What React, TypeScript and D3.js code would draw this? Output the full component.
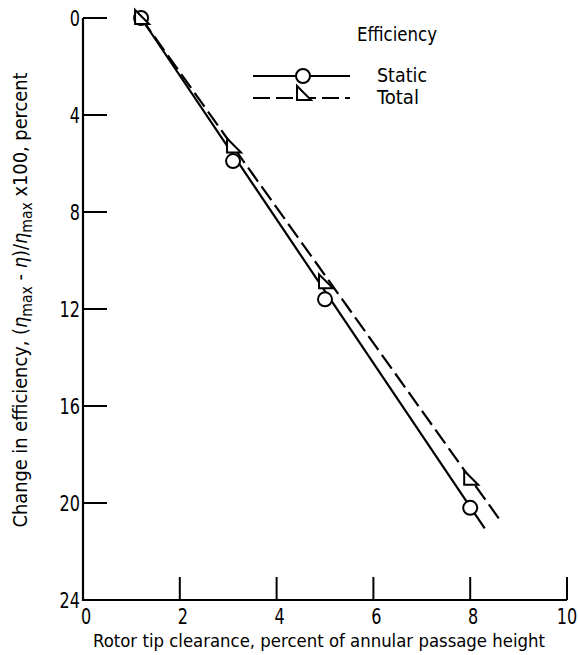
import React from "react";
import * as d3 from "d3";

const staticX = [1.2, 3.1, 5.0, 8.0];
const staticY = [0, 5.9, 11.6, 20.2];
const totalX = [1.2, 3.1, 5.0, 8.0];
const totalY = [0, 5.3, 10.9, 19.0];
const staticFitX = [1.2, 8.3];
const staticFitY = [0, 21.05];
const totalFitX = [1.2, 8.65];
const totalFitY = [0, 20.8];
const xTicks = [0, 2, 4, 6, 8, 10];
const yTicks = [0, 4, 8, 12, 16, 20, 24];
const legendNames = ["Static", "Total"];
const legendTitle = "Efficiency";
const xLabel = "Rotor tip clearance,  percent of annular passage height";

const W = 578;
const H = 655;
const FONT = "'DejaVu Sans Condensed', 'DejaVu Sans', sans-serif";

export default function App() {
  const x = d3.scaleLinear().domain([0, 10]).range([83, 567]);
  const y = d3.scaleLinear().domain([0, 24]).range([18, 600]);
  const line = d3.line<[number, number]>().x((d) => x(d[0])).y((d) => y(d[1]));
  const pairs = (xs: number[], ys: number[]) => xs.map((v, i) => [v, ys[i]] as [number, number]);

  const tri = (cx: number, cy: number) =>
    `M${cx - 6},${cy - 8}L${cx - 6},${cy + 6}L${cx + 8},${cy + 6}Z`;

  const lx0 = 253, lx1 = 350, lxm = 303;
  const ly = [76, 98];

  return (
    <svg width={W} height={H} style={{ position: "absolute", left: 0, top: 0, background: "#fff" }} fontFamily={FONT}>
      <rect x={0} y={0} width={W} height={H} fill="#fff" />
      {/* axes */}
      <path d={`M${x(0)},${y(0)}L${x(0)},${y(24)}L${x(10)},${y(24)}`} fill="none" stroke="#000" strokeWidth={2.2} />
      {yTicks.slice(0, -1).map((t) => (
        <line key={"yt" + t} x1={x(0)} x2={x(0) + 24} y1={y(t)} y2={y(t)} stroke="#000" strokeWidth={2} />
      ))}
      {xTicks.slice(1).map((t) => (
        <line key={"xt" + t} x1={x(t)} x2={x(t)} y1={y(24)} y2={y(24) - 23} stroke="#000" strokeWidth={2} />
      ))}
      {yTicks.map((t) => (
        <text key={"yl" + t} transform={`translate(${x(0) - 3},${y(t)}) scale(0.85,1)`} dy="0.36em" textAnchor="end" fontSize={21} fill="#000">
          {t}
        </text>
      ))}
      {xTicks.map((t) => (
        <text key={"xl" + t} transform={`translate(${Math.min(x(t) + 3, 567)},624) scale(0.85,1)`} textAnchor="middle" fontSize={21} fill="#000">
          {t}
        </text>
      ))}
      <text x={319} y={647} textAnchor="middle" fontSize={18} fill="#000" textLength={452} lengthAdjust="spacingAndGlyphs">
        {xLabel}
      </text>
      <text transform="translate(27,300) rotate(-90)" textAnchor="middle" fontSize={19} fill="#000" textLength={455} lengthAdjust="spacingAndGlyphs">
        <tspan>Change in efficiency,  (</tspan>
        <tspan fontStyle="italic">η</tspan>
        <tspan fontSize={15} dy={5}>max</tspan>
        <tspan dy={-5}> - </tspan>
        <tspan fontStyle="italic">η</tspan>
        <tspan>)/</tspan>
        <tspan fontStyle="italic">η</tspan>
        <tspan fontSize={15} dy={5}>max</tspan>
        <tspan dy={-5}> x100,  percent</tspan>
      </text>

      {/* fit lines */}
      <path d={line(pairs(staticFitX, staticFitY)) || ""} fill="none" stroke="#000" strokeWidth={2.2} />
      <path d={line(pairs(totalFitX, totalFitY)) || ""} fill="none" stroke="#000" strokeWidth={2.2} strokeDasharray="17,6" />

      {/* markers */}
      {staticX.map((v, i) => (
        <circle key={"s" + i} cx={x(v)} cy={y(staticY[i])} r={7} fill="#fff" stroke="#000" strokeWidth={2} />
      ))}
      {totalX.map((v, i) => (
        <path key={"t" + i} d={tri(x(v), y(totalY[i]))} fill="#fff" stroke="#000" strokeWidth={2} strokeLinejoin="miter" />
      ))}

      {/* legend */}
      <text x={357} y={41} fontSize={20} fill="#000" textLength={80} lengthAdjust="spacingAndGlyphs">{legendTitle}</text>
      <line x1={lx0} x2={lx1} y1={ly[0]} y2={ly[0]} stroke="#000" strokeWidth={2.2} />
      <circle cx={lxm} cy={ly[0]} r={7} fill="#fff" stroke="#000" strokeWidth={2} />
      <line x1={lx0} x2={lx1} y1={ly[1]} y2={ly[1]} stroke="#000" strokeWidth={2.2} strokeDasharray="17,6" />
      <path d={tri(lxm, ly[1] - 4)} fill="#fff" stroke="#000" strokeWidth={2} />
      {legendNames.map((n, i) => (
        <text key={n} x={377} y={ly[i] + 6} fontSize={20} fill="#000" textLength={i === 0 ? 50 : 42} lengthAdjust="spacingAndGlyphs">{n}</text>
      ))}
    </svg>
  );
}
